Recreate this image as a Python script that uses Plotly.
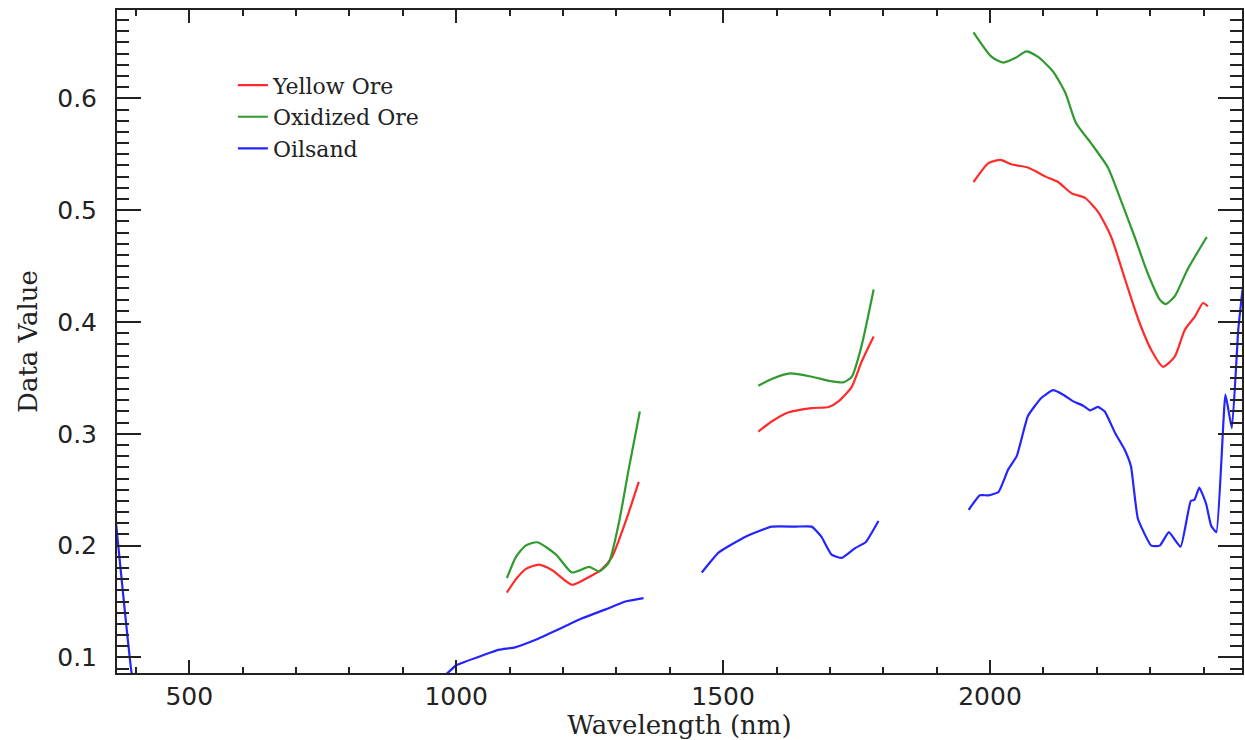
import plotly.graph_objects as go

# Yellow Ore (red) - three segments separated by gaps
yellow_wl = [1095, 1112, 1130, 1155, 1180, 1217, 1249, 1273, 1292, 1317, 1342, None,
             1566, 1591, 1622, 1666, 1698, 1716, 1741, 1759, 1782, None,
             1969, 1997, 2020, 2040, 2072, 2104, 2128, 2153, 2178, 2203, 2227, 2253, 2278, 2302, 2324, 2346, 2365, 2384, 2399, 2408]
yellow_val = [0.158, 0.170, 0.179, 0.183, 0.178, 0.165, 0.172, 0.179, 0.190, 0.221, 0.257, None,
              0.302, 0.311, 0.319, 0.323, 0.324, 0.329, 0.342, 0.364, 0.387, None,
              0.525, 0.542, 0.545, 0.541, 0.538, 0.530, 0.525, 0.515, 0.511, 0.498, 0.476, 0.438, 0.402, 0.375, 0.360, 0.369, 0.393, 0.405, 0.417, 0.414]

# Oxidized Ore (green)
oxid_wl = [1095, 1112, 1130, 1152, 1187, 1217, 1249, 1268, 1286, 1305, 1323, 1344, None,
           1566, 1591, 1626, 1666, 1703, 1725, 1741, 1759, 1782, None,
           1969, 2003, 2025, 2047, 2068, 2090, 2118, 2141, 2161, 2189, 2221, 2245, 2271, 2295, 2318, 2329, 2346, 2370, 2406]
oxid_val = [0.171, 0.190, 0.200, 0.203, 0.192, 0.176, 0.181, 0.177, 0.185, 0.221, 0.268, 0.320, None,
            0.343, 0.349, 0.354, 0.351, 0.347, 0.346, 0.351, 0.378, 0.429, None,
            0.659, 0.637, 0.632, 0.636, 0.642, 0.637, 0.624, 0.605, 0.578, 0.560, 0.538, 0.509, 0.476, 0.444, 0.420, 0.416, 0.423, 0.447, 0.476]

# Oilsand (blue)
oil_wl = [362, 392, 400, 975, 1000, 1050, 1081, 1110, 1150, 1200, 1236, 1280, 1317, 1351, None,
          1460, 1492, 1542, 1591, 1636, 1666, 1684, 1703, 1722, 1748, 1767, 1791, None,
          1960, 1981, 1997, 2016, 2034, 2050, 2071, 2096, 2118, 2137, 2156, 2175, 2187, 2202, 2215,
          2234, 2252, 2264, 2277, 2302, 2318, 2335, 2357, 2376, 2383, 2392, 2405, 2414, 2424,
          2441, 2453, 2465, 2473]
oil_val = [0.224, 0.086, 0.070, 0.083, 0.093, 0.102, 0.107, 0.109, 0.116, 0.127, 0.135, 0.143, 0.150, 0.153, None,
           0.176, 0.194, 0.208, 0.217, 0.217, 0.217, 0.208, 0.192, 0.189, 0.198, 0.203, 0.222, None,
           0.232, 0.245, 0.245, 0.248, 0.268, 0.280, 0.316, 0.332, 0.339, 0.335, 0.329, 0.325, 0.321, 0.324, 0.320,
           0.301, 0.286, 0.271, 0.224, 0.200, 0.200, 0.212, 0.199, 0.240, 0.241, 0.252, 0.237, 0.218, 0.212,
           0.335, 0.305, 0.393, 0.429]

x_range = [364.6, 2472]
y_range = [0.0861, 0.679]

fig = go.Figure()
fig.add_trace(go.Scatter(x=yellow_wl, y=yellow_val, mode="lines", name="Yellow Ore",
                         line=dict(color="#ff2a2a", width=2.2, shape="spline", smoothing=0.6)))
fig.add_trace(go.Scatter(x=oxid_wl, y=oxid_val, mode="lines", name="Oxidized Ore",
                         line=dict(color="#2f9a2f", width=2.2, shape="spline", smoothing=0.6)))
fig.add_trace(go.Scatter(x=oil_wl, y=oil_val, mode="lines", name="Oilsand",
                         line=dict(color="#2424ff", width=2.2, shape="spline", smoothing=0.4)))

tickfont = dict(family="DejaVu Sans", size=25, color="#222")
titlefont = dict(family="DejaVu Serif", size=26, color="#222")

fig.update_layout(
    width=1245, height=740,
    margin=dict(l=117, r=1, t=10, b=67),
    plot_bgcolor="white", paper_bgcolor="white",
    showlegend=True,
    legend=dict(x=0.103, y=0.918, xanchor="left", yanchor="top",
                font=dict(family="DejaVu Serif", size=22, color="#222"),
                bgcolor="rgba(0,0,0,0)", tracegroupgap=0),
    xaxis=dict(range=x_range, showgrid=False, zeroline=False,
               showline=True, linecolor="#222", linewidth=2, mirror="ticks",
               ticks="inside", tickcolor="#222", ticklen=13, tickwidth=2,
               tick0=0, dtick=500, tickfont=tickfont,
               minor=dict(ticks="inside", dtick=100, ticklen=6, tickwidth=2, tickcolor="#222"),
               title=dict(text="Wavelength (nm)", font=titlefont, standoff=0)),
    yaxis=dict(range=y_range, showgrid=False, zeroline=False,
               showline=True, linecolor="#222", linewidth=2, mirror="ticks",
               ticks="inside", tickcolor="#222", ticklen=24, tickwidth=2,
               tick0=0, dtick=0.1, tickformat=".1f", tickfont=tickfont,
               ticklabelstandoff=13,
               minor=dict(ticks="inside", dtick=0.01, ticklen=12, tickwidth=2, tickcolor="#222"),
               title=dict(text="Data Value", font=titlefont, standoff=12)),
)

fig.write_html("out.html")
